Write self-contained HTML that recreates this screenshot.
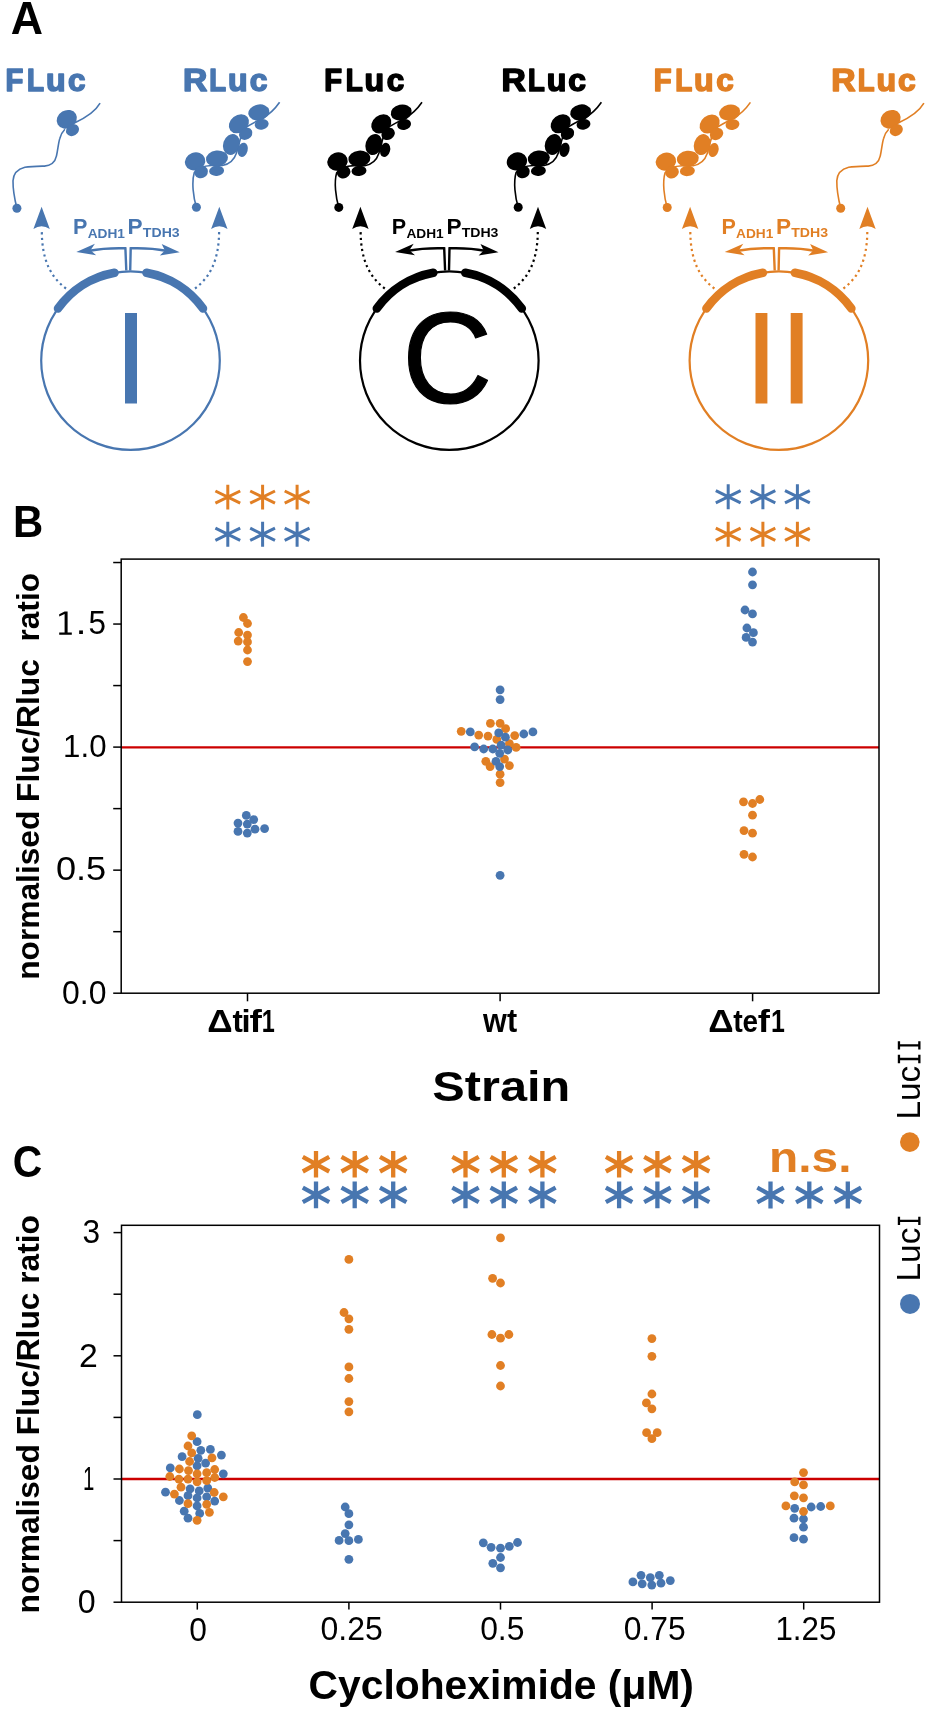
<!DOCTYPE html>
<html><head><meta charset="utf-8"><title>Figure</title>
<style>
html,body{margin:0;padding:0;background:#fff;}
body{width:935px;height:1714px;overflow:hidden;font-family:"Liberation Sans",sans-serif;}
svg{display:block;will-change:transform;}
text{font-kerning:none;font-variant-ligatures:none;white-space:pre;}
</style></head><body>
<svg width="935" height="1714" viewBox="0 0 935 1714">
<rect width="935" height="1714" fill="#fff"/>
<text transform="translate(10.69,33.6) scale(0.44716,0.45495)" font-family='"Liberation Sans", sans-serif' font-weight="bold" font-size="100" fill="#000">A</text>
<text transform="translate(5.45,90.89) scale(0.29173,0.31673)" font-family='"Liberation Sans", sans-serif' font-weight="bold" font-size="100" fill="#4876b0" stroke="#4876b0" stroke-width="5.26" stroke-linejoin="round">F</text>
<text transform="translate(26.94,90.89) scale(0.27865,0.31673)" font-family='"Liberation Sans", sans-serif' font-weight="bold" font-size="100" fill="#4876b0" stroke="#4876b0" stroke-width="5.37" stroke-linejoin="round">L</text>
<text transform="translate(45.91,90.89) scale(0.32097,0.31673)" font-family='"Liberation Sans", sans-serif' font-weight="bold" font-size="100" fill="#4876b0" stroke="#4876b0" stroke-width="5.02" stroke-linejoin="round">u</text>
<text transform="translate(67.97,90.89) scale(0.31366,0.31673)" font-family='"Liberation Sans", sans-serif' font-weight="bold" font-size="100" fill="#4876b0" stroke="#4876b0" stroke-width="5.08" stroke-linejoin="round">c</text>
<text transform="translate(182.94,90.89) scale(0.33713,0.31673)" font-family='"Liberation Sans", sans-serif' font-weight="bold" font-size="100" fill="#4876b0" stroke="#4876b0" stroke-width="4.89" stroke-linejoin="round">R</text>
<text transform="translate(209.36,90.89) scale(0.27476,0.31673)" font-family='"Liberation Sans", sans-serif' font-weight="bold" font-size="100" fill="#4876b0" stroke="#4876b0" stroke-width="5.41" stroke-linejoin="round">L</text>
<text transform="translate(228.11,90.89) scale(0.32097,0.31673)" font-family='"Liberation Sans", sans-serif' font-weight="bold" font-size="100" fill="#4876b0" stroke="#4876b0" stroke-width="5.02" stroke-linejoin="round">u</text>
<text transform="translate(249.76,90.89) scale(0.31776,0.31673)" font-family='"Liberation Sans", sans-serif' font-weight="bold" font-size="100" fill="#4876b0" stroke="#4876b0" stroke-width="5.04" stroke-linejoin="round">c</text>
<text transform="translate(324.15,90.99) scale(0.29173,0.31673)" font-family='"Liberation Sans", sans-serif' font-weight="bold" font-size="100" fill="#000000" stroke="#000000" stroke-width="5.26" stroke-linejoin="round">F</text>
<text transform="translate(345.64,90.99) scale(0.27865,0.31673)" font-family='"Liberation Sans", sans-serif' font-weight="bold" font-size="100" fill="#000000" stroke="#000000" stroke-width="5.37" stroke-linejoin="round">L</text>
<text transform="translate(364.61,90.99) scale(0.32097,0.31673)" font-family='"Liberation Sans", sans-serif' font-weight="bold" font-size="100" fill="#000000" stroke="#000000" stroke-width="5.02" stroke-linejoin="round">u</text>
<text transform="translate(386.67,90.99) scale(0.31366,0.31673)" font-family='"Liberation Sans", sans-serif' font-weight="bold" font-size="100" fill="#000000" stroke="#000000" stroke-width="5.08" stroke-linejoin="round">c</text>
<text transform="translate(501.54,90.99) scale(0.33713,0.31673)" font-family='"Liberation Sans", sans-serif' font-weight="bold" font-size="100" fill="#000000" stroke="#000000" stroke-width="4.89" stroke-linejoin="round">R</text>
<text transform="translate(527.96,90.99) scale(0.27476,0.31673)" font-family='"Liberation Sans", sans-serif' font-weight="bold" font-size="100" fill="#000000" stroke="#000000" stroke-width="5.41" stroke-linejoin="round">L</text>
<text transform="translate(546.71,90.99) scale(0.32097,0.31673)" font-family='"Liberation Sans", sans-serif' font-weight="bold" font-size="100" fill="#000000" stroke="#000000" stroke-width="5.02" stroke-linejoin="round">u</text>
<text transform="translate(568.36,90.99) scale(0.31776,0.31673)" font-family='"Liberation Sans", sans-serif' font-weight="bold" font-size="100" fill="#000000" stroke="#000000" stroke-width="5.04" stroke-linejoin="round">c</text>
<text transform="translate(653.65,90.89) scale(0.29173,0.31673)" font-family='"Liberation Sans", sans-serif' font-weight="bold" font-size="100" fill="#e17f24" stroke="#e17f24" stroke-width="5.26" stroke-linejoin="round">F</text>
<text transform="translate(675.14,90.89) scale(0.27865,0.31673)" font-family='"Liberation Sans", sans-serif' font-weight="bold" font-size="100" fill="#e17f24" stroke="#e17f24" stroke-width="5.37" stroke-linejoin="round">L</text>
<text transform="translate(694.11,90.89) scale(0.32097,0.31673)" font-family='"Liberation Sans", sans-serif' font-weight="bold" font-size="100" fill="#e17f24" stroke="#e17f24" stroke-width="5.02" stroke-linejoin="round">u</text>
<text transform="translate(716.17,90.89) scale(0.31366,0.31673)" font-family='"Liberation Sans", sans-serif' font-weight="bold" font-size="100" fill="#e17f24" stroke="#e17f24" stroke-width="5.08" stroke-linejoin="round">c</text>
<text transform="translate(831.24,90.89) scale(0.33713,0.31673)" font-family='"Liberation Sans", sans-serif' font-weight="bold" font-size="100" fill="#e17f24" stroke="#e17f24" stroke-width="4.89" stroke-linejoin="round">R</text>
<text transform="translate(857.66,90.89) scale(0.27476,0.31673)" font-family='"Liberation Sans", sans-serif' font-weight="bold" font-size="100" fill="#e17f24" stroke="#e17f24" stroke-width="5.41" stroke-linejoin="round">L</text>
<text transform="translate(876.41,90.89) scale(0.32097,0.31673)" font-family='"Liberation Sans", sans-serif' font-weight="bold" font-size="100" fill="#e17f24" stroke="#e17f24" stroke-width="5.02" stroke-linejoin="round">u</text>
<text transform="translate(898.06,90.89) scale(0.31776,0.31673)" font-family='"Liberation Sans", sans-serif' font-weight="bold" font-size="100" fill="#e17f24" stroke="#e17f24" stroke-width="5.04" stroke-linejoin="round">c</text>
<circle cx="130.5" cy="360.6" r="89.3" fill="none" stroke="#4876b0" stroke-width="2.2"/>
<path d="M57.98,308.49 A89.3,89.3 0 0 1 114.53,272.74" fill="none" stroke="#4876b0" stroke-width="8.5" stroke-linecap="round"/>
<path d="M146.47,272.74 A89.3,89.3 0 0 1 203.02,308.49" fill="none" stroke="#4876b0" stroke-width="8.5" stroke-linecap="round"/>
<path d="M126.3,270.5 L125.4,248.3 Q105.5,247.7 89.5,250.7" fill="none" stroke="#4876b0" stroke-width="2.4"/>
<path d="M130.2,270.5 L130.7,248.3 Q150.5,247.7 166,250.7" fill="none" stroke="#4876b0" stroke-width="2.4"/>
<path d="M76.3,252.1 L94.9,243.8 L90.5,250.2 L96.2,255.3 Z" fill="#4876b0"/>
<path d="M179.7,252.3 L161.7,244 L164.9,250.4 L159.8,255.5 Z" fill="#4876b0"/>
<path d="M66,288.5 C52,278 41.9,262 41.8,231" fill="none" stroke="#4876b0" stroke-width="2.2" stroke-dasharray="2.2 3.4"/>
<path d="M195,288.5 C209,278 219,262 219.1,231" fill="none" stroke="#4876b0" stroke-width="2.2" stroke-dasharray="2.2 3.4"/>
<path d="M41.6,206.8 L49.8,229.1 Q41.6,223.3 33.4,229.1 Z" fill="#4876b0"/>
<path d="M219.3,206.8 L227.5,229.1 Q219.3,223.3 211.1,229.1 Z" fill="#4876b0"/>
<g transform="translate(16.9,208.2)" fill="#4876b0">
<path d="M0,0 C-2,-8 -4,-20 -3.9,-27.5 C-3.5,-34 0,-39 8,-41 C14,-42 22,-42 27.5,-42.1 C33,-42.5 38,-45 39.5,-52 C41,-58 41.5,-66 43,-70 C44,-74 46,-77 48,-79 M58,-85.5 C68,-90 78,-96 83.2,-105" fill="none" stroke="#4876b0" stroke-width="1.6"/>
<ellipse cx="49.9" cy="-88.9" rx="10.5" ry="9" transform="rotate(-30 49.9 -88.9)"/>
<ellipse cx="55.6" cy="-78" rx="6.8" ry="5.6" transform="rotate(-30 55.6 -78)"/>
<circle cx="0" cy="0" r="4.5"/>
</g>
<g transform="translate(196.4,207.3)" fill="#4876b0">
<path d="M0,0 C-3,-10 -5,-25 -2.1,-34.7 C2,-40 8,-41.5 15,-41.8 L26,-41.8 C33,-43 38,-48 40,-54 C42,-60 44,-72 48,-79 C54,-83 60,-86 66,-89 C73,-93 79,-99 83.2,-105.1" fill="none" stroke="#4876b0" stroke-width="1.6"/>
<ellipse cx="62.4" cy="-94.9" rx="10.6" ry="7.9" transform="rotate(-12 62.4 -94.9)"/>
<ellipse cx="65.3" cy="-82.9" rx="7" ry="5.3" transform="rotate(-12 65.3 -82.9)"/>
<ellipse cx="42.5" cy="-83.5" rx="10.9" ry="8.6" transform="rotate(-38 42.5 -83.5)"/>
<ellipse cx="49.3" cy="-73.5" rx="7" ry="5.8" transform="rotate(-30 49.3 -73.5)"/>
<ellipse cx="35" cy="-62.9" rx="8.2" ry="10.7" transform="rotate(18 35 -62.9)"/>
<ellipse cx="46.3" cy="-57.5" rx="5" ry="7.2" transform="rotate(15 46.3 -57.5)"/>
<ellipse cx="20.6" cy="-48.8" rx="11" ry="8" transform="rotate(-6 20.6 -48.8)"/>
<ellipse cx="20.2" cy="-36.5" rx="7.5" ry="5.1" transform="rotate(-5 20.2 -36.5)"/>
<ellipse cx="-1.3" cy="-45.9" rx="10.3" ry="9" transform="rotate(-20 -1.3 -45.9)"/>
<ellipse cx="4.8" cy="-35.3" rx="6.9" ry="6.2" transform="rotate(-25 4.8 -35.3)"/>
<circle cx="0" cy="0" r="4.5"/>
</g>
<text transform="translate(73.06,233.5) scale(0.21558,0.21512)" font-family='"Liberation Sans", sans-serif' font-weight="bold" font-size="100" fill="#4876b0">P</text>
<text transform="translate(87.66,237.6) scale(0.13708,0.13082)" font-family='"Liberation Sans", sans-serif' font-weight="bold" font-size="100" fill="#4876b0">ADH1</text>
<text transform="translate(127.59,233.5) scale(0.22618,0.21512)" font-family='"Liberation Sans", sans-serif' font-weight="bold" font-size="100" fill="#4876b0">P</text>
<text transform="translate(142.84,237.46) scale(0.14119,0.12685)" font-family='"Liberation Sans", sans-serif' font-weight="bold" font-size="100" fill="#4876b0">TDH3</text>
<rect x="125" y="313" width="12" height="90.5" fill="#4876b0"/>
<circle cx="449.3" cy="360.6" r="89.3" fill="none" stroke="#000000" stroke-width="2.2"/>
<path d="M376.78,308.49 A89.3,89.3 0 0 1 433.33,272.74" fill="none" stroke="#000000" stroke-width="8.5" stroke-linecap="round"/>
<path d="M465.27,272.74 A89.3,89.3 0 0 1 521.82,308.49" fill="none" stroke="#000000" stroke-width="8.5" stroke-linecap="round"/>
<path d="M445.1,270.5 L444.2,248.3 Q424.3,247.7 408.3,250.7" fill="none" stroke="#000000" stroke-width="2.4"/>
<path d="M449,270.5 L449.5,248.3 Q469.3,247.7 484.8,250.7" fill="none" stroke="#000000" stroke-width="2.4"/>
<path d="M395.1,252.1 L413.7,243.8 L409.3,250.2 L415,255.3 Z" fill="#000000"/>
<path d="M498.5,252.3 L480.5,244 L483.7,250.4 L478.6,255.5 Z" fill="#000000"/>
<path d="M384.8,288.5 C370.8,278 360.7,262 360.6,231" fill="none" stroke="#000000" stroke-width="2.2" stroke-dasharray="2.2 3.4"/>
<path d="M513.8,288.5 C527.8,278 537.7,262 537.8,231" fill="none" stroke="#000000" stroke-width="2.2" stroke-dasharray="2.2 3.4"/>
<path d="M360.4,206.8 L368.6,229.1 Q360.4,223.3 352.2,229.1 Z" fill="#000000"/>
<path d="M538,206.8 L546.2,229.1 Q538,223.3 529.8,229.1 Z" fill="#000000"/>
<g transform="translate(338.8,207.4)" fill="#000000">
<path d="M0,0 C-3,-10 -5,-25 -2.1,-34.7 C2,-40 8,-41.5 15,-41.8 L26,-41.8 C33,-43 38,-48 40,-54 C42,-60 44,-72 48,-79 C54,-83 60,-86 66,-89 C73,-93 79,-99 83.2,-105.1" fill="none" stroke="#000000" stroke-width="1.6"/>
<ellipse cx="62.4" cy="-94.9" rx="10.6" ry="7.9" transform="rotate(-12 62.4 -94.9)"/>
<ellipse cx="65.3" cy="-82.9" rx="7" ry="5.3" transform="rotate(-12 65.3 -82.9)"/>
<ellipse cx="42.5" cy="-83.5" rx="10.9" ry="8.6" transform="rotate(-38 42.5 -83.5)"/>
<ellipse cx="49.3" cy="-73.5" rx="7" ry="5.8" transform="rotate(-30 49.3 -73.5)"/>
<ellipse cx="35" cy="-62.9" rx="8.2" ry="10.7" transform="rotate(18 35 -62.9)"/>
<ellipse cx="46.3" cy="-57.5" rx="5" ry="7.2" transform="rotate(15 46.3 -57.5)"/>
<ellipse cx="20.6" cy="-48.8" rx="11" ry="8" transform="rotate(-6 20.6 -48.8)"/>
<ellipse cx="20.2" cy="-36.5" rx="7.5" ry="5.1" transform="rotate(-5 20.2 -36.5)"/>
<ellipse cx="-1.3" cy="-45.9" rx="10.3" ry="9" transform="rotate(-20 -1.3 -45.9)"/>
<ellipse cx="4.8" cy="-35.3" rx="6.9" ry="6.2" transform="rotate(-25 4.8 -35.3)"/>
<circle cx="0" cy="0" r="4.5"/>
</g>
<g transform="translate(518.2,207.3)" fill="#000000">
<path d="M0,0 C-3,-10 -5,-25 -2.1,-34.7 C2,-40 8,-41.5 15,-41.8 L26,-41.8 C33,-43 38,-48 40,-54 C42,-60 44,-72 48,-79 C54,-83 60,-86 66,-89 C73,-93 79,-99 83.2,-105.1" fill="none" stroke="#000000" stroke-width="1.6"/>
<ellipse cx="62.4" cy="-94.9" rx="10.6" ry="7.9" transform="rotate(-12 62.4 -94.9)"/>
<ellipse cx="65.3" cy="-82.9" rx="7" ry="5.3" transform="rotate(-12 65.3 -82.9)"/>
<ellipse cx="42.5" cy="-83.5" rx="10.9" ry="8.6" transform="rotate(-38 42.5 -83.5)"/>
<ellipse cx="49.3" cy="-73.5" rx="7" ry="5.8" transform="rotate(-30 49.3 -73.5)"/>
<ellipse cx="35" cy="-62.9" rx="8.2" ry="10.7" transform="rotate(18 35 -62.9)"/>
<ellipse cx="46.3" cy="-57.5" rx="5" ry="7.2" transform="rotate(15 46.3 -57.5)"/>
<ellipse cx="20.6" cy="-48.8" rx="11" ry="8" transform="rotate(-6 20.6 -48.8)"/>
<ellipse cx="20.2" cy="-36.5" rx="7.5" ry="5.1" transform="rotate(-5 20.2 -36.5)"/>
<ellipse cx="-1.3" cy="-45.9" rx="10.3" ry="9" transform="rotate(-20 -1.3 -45.9)"/>
<ellipse cx="4.8" cy="-35.3" rx="6.9" ry="6.2" transform="rotate(-25 4.8 -35.3)"/>
<circle cx="0" cy="0" r="4.5"/>
</g>
<text transform="translate(391.86,233.5) scale(0.21558,0.21512)" font-family='"Liberation Sans", sans-serif' font-weight="bold" font-size="100" fill="#000000">P</text>
<text transform="translate(406.46,237.6) scale(0.13708,0.13082)" font-family='"Liberation Sans", sans-serif' font-weight="bold" font-size="100" fill="#000000">ADH1</text>
<text transform="translate(446.39,233.5) scale(0.22618,0.21512)" font-family='"Liberation Sans", sans-serif' font-weight="bold" font-size="100" fill="#000000">P</text>
<text transform="translate(461.64,237.46) scale(0.14119,0.12685)" font-family='"Liberation Sans", sans-serif' font-weight="bold" font-size="100" fill="#000000">TDH3</text>
<text transform="translate(402.27,403.23) scale(1.24585,1.29942)" font-family='"Liberation Sans", sans-serif' font-weight="normal" font-size="100" fill="#000000" stroke="#000000" stroke-width="0.94" stroke-linejoin="round">C</text>
<circle cx="778.9" cy="360.6" r="89.3" fill="none" stroke="#e17f24" stroke-width="2.2"/>
<path d="M706.38,308.49 A89.3,89.3 0 0 1 762.93,272.74" fill="none" stroke="#e17f24" stroke-width="8.5" stroke-linecap="round"/>
<path d="M794.87,272.74 A89.3,89.3 0 0 1 851.42,308.49" fill="none" stroke="#e17f24" stroke-width="8.5" stroke-linecap="round"/>
<path d="M774.7,270.5 L773.8,248.3 Q753.9,247.7 737.9,250.7" fill="none" stroke="#e17f24" stroke-width="2.4"/>
<path d="M778.6,270.5 L779.1,248.3 Q798.9,247.7 814.4,250.7" fill="none" stroke="#e17f24" stroke-width="2.4"/>
<path d="M724.7,252.1 L743.3,243.8 L738.9,250.2 L744.6,255.3 Z" fill="#e17f24"/>
<path d="M828.1,252.3 L810.1,244 L813.3,250.4 L808.2,255.5 Z" fill="#e17f24"/>
<path d="M714.4,288.5 C700.4,278 690.4,262 690.3,231" fill="none" stroke="#e17f24" stroke-width="2.2" stroke-dasharray="2.2 3.4"/>
<path d="M843.4,288.5 C857.4,278 867.2,262 867.3,231" fill="none" stroke="#e17f24" stroke-width="2.2" stroke-dasharray="2.2 3.4"/>
<path d="M690.1,206.8 L698.3,229.1 Q690.1,223.3 681.9,229.1 Z" fill="#e17f24"/>
<path d="M867.5,206.8 L875.7,229.1 Q867.5,223.3 859.3,229.1 Z" fill="#e17f24"/>
<g transform="translate(667.2,207.5)" fill="#e17f24">
<path d="M0,0 C-3,-10 -5,-25 -2.1,-34.7 C2,-40 8,-41.5 15,-41.8 L26,-41.8 C33,-43 38,-48 40,-54 C42,-60 44,-72 48,-79 C54,-83 60,-86 66,-89 C73,-93 79,-99 83.2,-105.1" fill="none" stroke="#e17f24" stroke-width="1.6"/>
<ellipse cx="62.4" cy="-94.9" rx="10.6" ry="7.9" transform="rotate(-12 62.4 -94.9)"/>
<ellipse cx="65.3" cy="-82.9" rx="7" ry="5.3" transform="rotate(-12 65.3 -82.9)"/>
<ellipse cx="42.5" cy="-83.5" rx="10.9" ry="8.6" transform="rotate(-38 42.5 -83.5)"/>
<ellipse cx="49.3" cy="-73.5" rx="7" ry="5.8" transform="rotate(-30 49.3 -73.5)"/>
<ellipse cx="35" cy="-62.9" rx="8.2" ry="10.7" transform="rotate(18 35 -62.9)"/>
<ellipse cx="46.3" cy="-57.5" rx="5" ry="7.2" transform="rotate(15 46.3 -57.5)"/>
<ellipse cx="20.6" cy="-48.8" rx="11" ry="8" transform="rotate(-6 20.6 -48.8)"/>
<ellipse cx="20.2" cy="-36.5" rx="7.5" ry="5.1" transform="rotate(-5 20.2 -36.5)"/>
<ellipse cx="-1.3" cy="-45.9" rx="10.3" ry="9" transform="rotate(-20 -1.3 -45.9)"/>
<ellipse cx="4.8" cy="-35.3" rx="6.9" ry="6.2" transform="rotate(-25 4.8 -35.3)"/>
<circle cx="0" cy="0" r="4.5"/>
</g>
<g transform="translate(840.7,208.2)" fill="#e17f24">
<path d="M0,0 C-2,-8 -4,-20 -3.9,-27.5 C-3.5,-34 0,-39 8,-41 C14,-42 22,-42 27.5,-42.1 C33,-42.5 38,-45 39.5,-52 C41,-58 41.5,-66 43,-70 C44,-74 46,-77 48,-79 M58,-85.5 C68,-90 78,-96 83.2,-105" fill="none" stroke="#e17f24" stroke-width="1.6"/>
<ellipse cx="49.9" cy="-88.9" rx="10.5" ry="9" transform="rotate(-30 49.9 -88.9)"/>
<ellipse cx="55.6" cy="-78" rx="6.8" ry="5.6" transform="rotate(-30 55.6 -78)"/>
<circle cx="0" cy="0" r="4.5"/>
</g>
<text transform="translate(721.46,233.5) scale(0.21558,0.21512)" font-family='"Liberation Sans", sans-serif' font-weight="bold" font-size="100" fill="#e17f24">P</text>
<text transform="translate(736.06,237.6) scale(0.13708,0.13082)" font-family='"Liberation Sans", sans-serif' font-weight="bold" font-size="100" fill="#e17f24">ADH1</text>
<text transform="translate(775.99,233.5) scale(0.22618,0.21512)" font-family='"Liberation Sans", sans-serif' font-weight="bold" font-size="100" fill="#e17f24">P</text>
<text transform="translate(791.24,237.46) scale(0.14119,0.12685)" font-family='"Liberation Sans", sans-serif' font-weight="bold" font-size="100" fill="#e17f24">TDH3</text>
<rect x="755.5" y="313" width="11.9" height="90.5" fill="#e17f24"/>
<rect x="790.7" y="313" width="11.9" height="90.5" fill="#e17f24"/>
<text transform="translate(13.1,536.9) scale(0.41813,0.44332)" font-family='"Liberation Sans", sans-serif' font-weight="bold" font-size="100" fill="#000">B</text>
<line x1="121.2" y1="747.4" x2="879" y2="747.4" stroke="#cc0000" stroke-width="2.4"/>
<circle cx="243.4" cy="617.5" r="4.4" fill="#e17f24"/>
<circle cx="247.5" cy="623.5" r="4.4" fill="#e17f24"/>
<circle cx="238.7" cy="632.5" r="4.4" fill="#e17f24"/>
<circle cx="247.5" cy="635.1" r="4.4" fill="#e17f24"/>
<circle cx="238.2" cy="641.1" r="4.4" fill="#e17f24"/>
<circle cx="247.5" cy="641.9" r="4.4" fill="#e17f24"/>
<circle cx="247.5" cy="650" r="4.4" fill="#e17f24"/>
<circle cx="247.5" cy="661.6" r="4.4" fill="#e17f24"/>
<circle cx="743.5" cy="801.8" r="4.4" fill="#e17f24"/>
<circle cx="752.5" cy="803.5" r="4.4" fill="#e17f24"/>
<circle cx="759.8" cy="799.5" r="4.4" fill="#e17f24"/>
<circle cx="752.5" cy="815.2" r="4.4" fill="#e17f24"/>
<circle cx="744" cy="830.6" r="4.4" fill="#e17f24"/>
<circle cx="752.5" cy="833.2" r="4.4" fill="#e17f24"/>
<circle cx="744" cy="854.3" r="4.4" fill="#e17f24"/>
<circle cx="752.5" cy="857" r="4.4" fill="#e17f24"/>
<circle cx="246.3" cy="815.4" r="4.4" fill="#4876b0"/>
<circle cx="253.7" cy="819.6" r="4.4" fill="#4876b0"/>
<circle cx="238" cy="823.1" r="4.4" fill="#4876b0"/>
<circle cx="247.3" cy="824.1" r="4.4" fill="#4876b0"/>
<circle cx="238" cy="831.4" r="4.4" fill="#4876b0"/>
<circle cx="255" cy="829.2" r="4.4" fill="#4876b0"/>
<circle cx="247.3" cy="833.1" r="4.4" fill="#4876b0"/>
<circle cx="264.6" cy="828.6" r="4.4" fill="#4876b0"/>
<circle cx="752.5" cy="572" r="4.4" fill="#4876b0"/>
<circle cx="752.5" cy="584.8" r="4.4" fill="#4876b0"/>
<circle cx="745" cy="610" r="4.4" fill="#4876b0"/>
<circle cx="752.5" cy="613.9" r="4.4" fill="#4876b0"/>
<circle cx="746.9" cy="628" r="4.4" fill="#4876b0"/>
<circle cx="753.4" cy="632.7" r="4.4" fill="#4876b0"/>
<circle cx="746.1" cy="637.4" r="4.4" fill="#4876b0"/>
<circle cx="752.5" cy="642.1" r="4.4" fill="#4876b0"/>
<circle cx="461.2" cy="731.3" r="4.4" fill="#e17f24"/>
<circle cx="490.4" cy="723.3" r="4.4" fill="#e17f24"/>
<circle cx="500.1" cy="723.3" r="4.4" fill="#e17f24"/>
<circle cx="505.6" cy="728.7" r="4.4" fill="#e17f24"/>
<circle cx="478.7" cy="735.1" r="4.4" fill="#e17f24"/>
<circle cx="488" cy="736.1" r="4.4" fill="#e17f24"/>
<circle cx="514.7" cy="735.6" r="4.4" fill="#e17f24"/>
<circle cx="496.8" cy="739.4" r="4.4" fill="#e17f24"/>
<circle cx="509.4" cy="743.6" r="4.4" fill="#e17f24"/>
<circle cx="516.1" cy="747.4" r="4.4" fill="#e17f24"/>
<circle cx="485.8" cy="761.3" r="4.4" fill="#e17f24"/>
<circle cx="490.1" cy="766.6" r="4.4" fill="#e17f24"/>
<circle cx="504.5" cy="759.1" r="4.4" fill="#e17f24"/>
<circle cx="509.4" cy="765.6" r="4.4" fill="#e17f24"/>
<circle cx="500.1" cy="774.2" r="4.4" fill="#e17f24"/>
<circle cx="500.1" cy="782.6" r="4.4" fill="#e17f24"/>
<circle cx="500.1" cy="689.8" r="4.4" fill="#4876b0"/>
<circle cx="500.1" cy="699.6" r="4.4" fill="#4876b0"/>
<circle cx="470.3" cy="731.9" r="4.4" fill="#4876b0"/>
<circle cx="523.8" cy="734" r="4.4" fill="#4876b0"/>
<circle cx="532.9" cy="731.9" r="4.4" fill="#4876b0"/>
<circle cx="498.7" cy="732.9" r="4.4" fill="#4876b0"/>
<circle cx="505.4" cy="737.2" r="4.4" fill="#4876b0"/>
<circle cx="474.6" cy="746.8" r="4.4" fill="#4876b0"/>
<circle cx="483.7" cy="749" r="4.4" fill="#4876b0"/>
<circle cx="492.8" cy="749" r="4.4" fill="#4876b0"/>
<circle cx="501.1" cy="745.2" r="4.4" fill="#4876b0"/>
<circle cx="507.8" cy="750" r="4.4" fill="#4876b0"/>
<circle cx="499.7" cy="753.3" r="4.4" fill="#4876b0"/>
<circle cx="496" cy="761.3" r="4.4" fill="#4876b0"/>
<circle cx="499.7" cy="766.6" r="4.4" fill="#4876b0"/>
<circle cx="500.1" cy="875.3" r="4.4" fill="#4876b0"/>
<rect x="121.2" y="559.1" width="757.8" height="434.1" fill="none" stroke="#000" stroke-width="1.5"/>
<line x1="113.2" y1="993.2" x2="121.2" y2="993.2" stroke="#000" stroke-width="1.5"/>
<line x1="113.2" y1="931.68" x2="121.2" y2="931.68" stroke="#000" stroke-width="1.5"/>
<line x1="113.2" y1="870.15" x2="121.2" y2="870.15" stroke="#000" stroke-width="1.5"/>
<line x1="113.2" y1="808.62" x2="121.2" y2="808.62" stroke="#000" stroke-width="1.5"/>
<line x1="113.2" y1="747.1" x2="121.2" y2="747.1" stroke="#000" stroke-width="1.5"/>
<line x1="113.2" y1="685.58" x2="121.2" y2="685.58" stroke="#000" stroke-width="1.5"/>
<line x1="113.2" y1="624.05" x2="121.2" y2="624.05" stroke="#000" stroke-width="1.5"/>
<line x1="113.2" y1="562.53" x2="121.2" y2="562.53" stroke="#000" stroke-width="1.5"/>
<line x1="247.5" y1="993.2" x2="247.5" y2="1001.3" stroke="#000" stroke-width="1.5"/>
<line x1="500.1" y1="993.2" x2="500.1" y2="1001.3" stroke="#000" stroke-width="1.5"/>
<line x1="752.6" y1="993.2" x2="752.6" y2="1001.3" stroke="#000" stroke-width="1.5"/>
<text transform="translate(62.05,1004.18) scale(0.31936,0.33192)" font-family='"Liberation Sans", sans-serif' font-weight="normal" font-size="100" fill="#000">0.0</text>
<text transform="translate(55.89,880.48) scale(0.36209,0.32909)" font-family='"Liberation Sans", sans-serif' font-weight="normal" font-size="100" fill="#000">0.5</text>
<text transform="translate(63.12,757.4) scale(0.31218,0.30791)" font-family='"Liberation Sans", sans-serif' font-weight="normal" font-size="100" fill="#000">1.0</text>
<path d="M64.6,611.4 H67.6 V632.4 H71.8 V634.8 H59.2 V632.4 H64.6 V614.1 L59.2,616.6 V614.2 Z" fill="#000"/>
<text transform="translate(75.46,634.47) scale(0.39910,0.33536)" font-family='"Liberation Sans", sans-serif' font-weight="normal" font-size="100" fill="#000">.</text>
<text transform="translate(88.54,634.47) scale(0.31427,0.33536)" font-family='"Liberation Sans", sans-serif' font-weight="normal" font-size="100" fill="#000">5</text>
<text transform="translate(207.17,1032.12) scale(0.35310,0.31497)" font-family='"Liberation Sans", sans-serif' font-weight="bold" font-size="100" fill="#000">Δ</text>
<text transform="translate(232.62,1032.12) scale(0.31109,0.31497)" font-family='"Liberation Sans", sans-serif' font-weight="bold" font-size="100" fill="#000">t</text>
<text transform="translate(241.61,1032.12) scale(0.32797,0.31497)" font-family='"Liberation Sans", sans-serif' font-weight="bold" font-size="100" fill="#000">i</text>
<text transform="translate(249.47,1032.12) scale(0.37122,0.31497)" font-family='"Liberation Sans", sans-serif' font-weight="bold" font-size="100" fill="#000">f</text>
<text transform="translate(261.72,1032.12) scale(0.23424,0.31497)" font-family='"Liberation Sans", sans-serif' font-weight="bold" font-size="100" fill="#000">1</text>
<text transform="translate(483.09,1032.22) scale(0.30593,0.32369)" font-family='"Liberation Sans", sans-serif' font-weight="bold" font-size="100" fill="#000">wt</text>
<text transform="translate(708.17,1032.09) scale(0.35310,0.31455)" font-family='"Liberation Sans", sans-serif' font-weight="bold" font-size="100" fill="#000">Δ</text>
<text transform="translate(733.25,1032.09) scale(0.28516,0.31455)" font-family='"Liberation Sans", sans-serif' font-weight="bold" font-size="100" fill="#000">t</text>
<text transform="translate(742.51,1032.09) scale(0.27956,0.31455)" font-family='"Liberation Sans", sans-serif' font-weight="bold" font-size="100" fill="#000">e</text>
<text transform="translate(757.78,1032.09) scale(0.36493,0.31455)" font-family='"Liberation Sans", sans-serif' font-weight="bold" font-size="100" fill="#000">f</text>
<text transform="translate(770.93,1032.09) scale(0.24928,0.31455)" font-family='"Liberation Sans", sans-serif' font-weight="bold" font-size="100" fill="#000">1</text>
<text transform="translate(432.3,1101.38) scale(0.48666,0.43030)" font-family='"Liberation Sans", sans-serif' font-weight="bold" font-size="100" fill="#000">Strain</text>
<text transform="translate(38.58,979.79) rotate(-90) scale(0.31702,0.31022)" font-family='"Liberation Sans", sans-serif' font-weight="bold" font-size="100" fill="#000">normalised Fluc/Rluc  ratio</text>
<path d="M227.8,484.65 V509.55 M215.4,491 L240.2,503.2 M215.4,503.2 L240.2,491" stroke="#e17f24" stroke-width="3" fill="none"/>
<path d="M227.8,521.85 V546.75 M215.4,528.2 L240.2,540.4 M215.4,540.4 L240.2,528.2" stroke="#4876b0" stroke-width="3" fill="none"/>
<path d="M262.6,484.65 V509.55 M250.2,491 L275,503.2 M250.2,503.2 L275,491" stroke="#e17f24" stroke-width="3" fill="none"/>
<path d="M262.6,521.85 V546.75 M250.2,528.2 L275,540.4 M250.2,540.4 L275,528.2" stroke="#4876b0" stroke-width="3" fill="none"/>
<path d="M297.1,484.65 V509.55 M284.7,491 L309.5,503.2 M284.7,503.2 L309.5,491" stroke="#e17f24" stroke-width="3" fill="none"/>
<path d="M297.1,521.85 V546.75 M284.7,528.2 L309.5,540.4 M284.7,540.4 L309.5,528.2" stroke="#4876b0" stroke-width="3" fill="none"/>
<path d="M728.2,484.35 V509.25 M715.8,490.7 L740.6,502.9 M715.8,502.9 L740.6,490.7" stroke="#4876b0" stroke-width="3" fill="none"/>
<path d="M728.2,521.85 V546.75 M715.8,528.2 L740.6,540.4 M715.8,540.4 L740.6,528.2" stroke="#e17f24" stroke-width="3" fill="none"/>
<path d="M762.9,484.35 V509.25 M750.5,490.7 L775.3,502.9 M750.5,502.9 L775.3,490.7" stroke="#4876b0" stroke-width="3" fill="none"/>
<path d="M762.9,521.85 V546.75 M750.5,528.2 L775.3,540.4 M750.5,540.4 L775.3,528.2" stroke="#e17f24" stroke-width="3" fill="none"/>
<path d="M797.4,484.35 V509.25 M785,490.7 L809.8,502.9 M785,502.9 L809.8,490.7" stroke="#4876b0" stroke-width="3" fill="none"/>
<path d="M797.4,521.85 V546.75 M785,528.2 L809.8,540.4 M785,540.4 L809.8,528.2" stroke="#e17f24" stroke-width="3" fill="none"/>
<text transform="translate(12.73,1177.36) scale(0.40838,0.44915)" font-family='"Liberation Sans", sans-serif' font-weight="bold" font-size="100" fill="#000">C</text>
<line x1="121.5" y1="1479" x2="879.5" y2="1479" stroke="#cc0000" stroke-width="2.4"/>
<circle cx="197.3" cy="1414.7" r="4.4" fill="#4876b0"/>
<circle cx="197.1" cy="1441.7" r="4.4" fill="#4876b0"/>
<circle cx="200.8" cy="1450.3" r="4.4" fill="#4876b0"/>
<circle cx="210.4" cy="1449.4" r="4.4" fill="#4876b0"/>
<circle cx="221.4" cy="1455.1" r="4.4" fill="#4876b0"/>
<circle cx="182.1" cy="1456.7" r="4.4" fill="#4876b0"/>
<circle cx="198.1" cy="1458.3" r="4.4" fill="#4876b0"/>
<circle cx="205.6" cy="1463.1" r="4.4" fill="#4876b0"/>
<circle cx="197.1" cy="1465.8" r="4.4" fill="#4876b0"/>
<circle cx="170.3" cy="1467.9" r="4.4" fill="#4876b0"/>
<circle cx="223.3" cy="1473.8" r="4.4" fill="#4876b0"/>
<circle cx="165.5" cy="1492.2" r="4.4" fill="#4876b0"/>
<circle cx="190.1" cy="1488.8" r="4.4" fill="#4876b0"/>
<circle cx="199.2" cy="1490.9" r="4.4" fill="#4876b0"/>
<circle cx="207.8" cy="1488.2" r="4.4" fill="#4876b0"/>
<circle cx="188" cy="1495.7" r="4.4" fill="#4876b0"/>
<circle cx="197.1" cy="1497.9" r="4.4" fill="#4876b0"/>
<circle cx="206.7" cy="1496.8" r="4.4" fill="#4876b0"/>
<circle cx="179.4" cy="1500.5" r="4.4" fill="#4876b0"/>
<circle cx="214.7" cy="1501.1" r="4.4" fill="#4876b0"/>
<circle cx="197.1" cy="1505.9" r="4.4" fill="#4876b0"/>
<circle cx="184.2" cy="1511.2" r="4.4" fill="#4876b0"/>
<circle cx="199.7" cy="1513.4" r="4.4" fill="#4876b0"/>
<circle cx="188" cy="1518.2" r="4.4" fill="#4876b0"/>
<circle cx="345.2" cy="1507" r="4.4" fill="#4876b0"/>
<circle cx="348.9" cy="1513.7" r="4.4" fill="#4876b0"/>
<circle cx="348.9" cy="1524.8" r="4.4" fill="#4876b0"/>
<circle cx="345.2" cy="1533.6" r="4.4" fill="#4876b0"/>
<circle cx="339.1" cy="1540.4" r="4.4" fill="#4876b0"/>
<circle cx="348.9" cy="1540.7" r="4.4" fill="#4876b0"/>
<circle cx="358.4" cy="1539.4" r="4.4" fill="#4876b0"/>
<circle cx="348.9" cy="1559.3" r="4.4" fill="#4876b0"/>
<circle cx="483.3" cy="1542.8" r="4.4" fill="#4876b0"/>
<circle cx="491.1" cy="1547.3" r="4.4" fill="#4876b0"/>
<circle cx="500.5" cy="1548.2" r="4.4" fill="#4876b0"/>
<circle cx="509.3" cy="1546.3" r="4.4" fill="#4876b0"/>
<circle cx="517.5" cy="1542.5" r="4.4" fill="#4876b0"/>
<circle cx="500.5" cy="1557.5" r="4.4" fill="#4876b0"/>
<circle cx="492.8" cy="1563.3" r="4.4" fill="#4876b0"/>
<circle cx="500.5" cy="1567.8" r="4.4" fill="#4876b0"/>
<circle cx="632.9" cy="1581.9" r="4.4" fill="#4876b0"/>
<circle cx="641" cy="1575.3" r="4.4" fill="#4876b0"/>
<circle cx="642.2" cy="1583.8" r="4.4" fill="#4876b0"/>
<circle cx="650.3" cy="1577.6" r="4.4" fill="#4876b0"/>
<circle cx="651.8" cy="1585.1" r="4.4" fill="#4876b0"/>
<circle cx="659.3" cy="1575.3" r="4.4" fill="#4876b0"/>
<circle cx="661" cy="1583.2" r="4.4" fill="#4876b0"/>
<circle cx="670.3" cy="1580.6" r="4.4" fill="#4876b0"/>
<circle cx="794.7" cy="1508.3" r="4.4" fill="#4876b0"/>
<circle cx="811.2" cy="1507" r="4.4" fill="#4876b0"/>
<circle cx="820.7" cy="1506.5" r="4.4" fill="#4876b0"/>
<circle cx="794" cy="1518.2" r="4.4" fill="#4876b0"/>
<circle cx="803.5" cy="1519" r="4.4" fill="#4876b0"/>
<circle cx="803.5" cy="1527.2" r="4.4" fill="#4876b0"/>
<circle cx="794" cy="1537.7" r="4.4" fill="#4876b0"/>
<circle cx="803.5" cy="1539.2" r="4.4" fill="#4876b0"/>
<circle cx="191.7" cy="1435.8" r="4.4" fill="#e17f24"/>
<circle cx="188" cy="1446" r="4.4" fill="#e17f24"/>
<circle cx="191.7" cy="1452.9" r="4.4" fill="#e17f24"/>
<circle cx="212" cy="1457.8" r="4.4" fill="#e17f24"/>
<circle cx="189.6" cy="1461.5" r="4.4" fill="#e17f24"/>
<circle cx="179.4" cy="1469" r="4.4" fill="#e17f24"/>
<circle cx="188.5" cy="1470.6" r="4.4" fill="#e17f24"/>
<circle cx="214.7" cy="1469.5" r="4.4" fill="#e17f24"/>
<circle cx="197.1" cy="1473.8" r="4.4" fill="#e17f24"/>
<circle cx="206.7" cy="1472.7" r="4.4" fill="#e17f24"/>
<circle cx="169.8" cy="1476.5" r="4.4" fill="#e17f24"/>
<circle cx="178.9" cy="1479.1" r="4.4" fill="#e17f24"/>
<circle cx="188" cy="1479.1" r="4.4" fill="#e17f24"/>
<circle cx="197.1" cy="1481.8" r="4.4" fill="#e17f24"/>
<circle cx="206.7" cy="1480.7" r="4.4" fill="#e17f24"/>
<circle cx="214.7" cy="1477.5" r="4.4" fill="#e17f24"/>
<circle cx="181" cy="1487.2" r="4.4" fill="#e17f24"/>
<circle cx="174.4" cy="1494.1" r="4.4" fill="#e17f24"/>
<circle cx="214.2" cy="1492.5" r="4.4" fill="#e17f24"/>
<circle cx="223.3" cy="1496.8" r="4.4" fill="#e17f24"/>
<circle cx="188" cy="1503.7" r="4.4" fill="#e17f24"/>
<circle cx="206.7" cy="1504.3" r="4.4" fill="#e17f24"/>
<circle cx="209.4" cy="1512.3" r="4.4" fill="#e17f24"/>
<circle cx="197.1" cy="1520.3" r="4.4" fill="#e17f24"/>
<circle cx="348.9" cy="1259.4" r="4.4" fill="#e17f24"/>
<circle cx="344" cy="1312.5" r="4.4" fill="#e17f24"/>
<circle cx="348.9" cy="1318.8" r="4.4" fill="#e17f24"/>
<circle cx="348.9" cy="1329.3" r="4.4" fill="#e17f24"/>
<circle cx="348.9" cy="1366.9" r="4.4" fill="#e17f24"/>
<circle cx="348.9" cy="1378.5" r="4.4" fill="#e17f24"/>
<circle cx="348.9" cy="1401.6" r="4.4" fill="#e17f24"/>
<circle cx="348.9" cy="1411.8" r="4.4" fill="#e17f24"/>
<circle cx="500.5" cy="1237.9" r="4.4" fill="#e17f24"/>
<circle cx="492.6" cy="1278.3" r="4.4" fill="#e17f24"/>
<circle cx="500.5" cy="1283" r="4.4" fill="#e17f24"/>
<circle cx="491.9" cy="1334.5" r="4.4" fill="#e17f24"/>
<circle cx="500.5" cy="1338.2" r="4.4" fill="#e17f24"/>
<circle cx="508.9" cy="1334.5" r="4.4" fill="#e17f24"/>
<circle cx="500.5" cy="1365.5" r="4.4" fill="#e17f24"/>
<circle cx="500.5" cy="1386" r="4.4" fill="#e17f24"/>
<circle cx="651.9" cy="1338.6" r="4.4" fill="#e17f24"/>
<circle cx="651.9" cy="1356.3" r="4.4" fill="#e17f24"/>
<circle cx="651.9" cy="1394" r="4.4" fill="#e17f24"/>
<circle cx="646.4" cy="1402.9" r="4.4" fill="#e17f24"/>
<circle cx="651.9" cy="1408.8" r="4.4" fill="#e17f24"/>
<circle cx="646.6" cy="1432.7" r="4.4" fill="#e17f24"/>
<circle cx="657.2" cy="1432.7" r="4.4" fill="#e17f24"/>
<circle cx="651.9" cy="1438.7" r="4.4" fill="#e17f24"/>
<circle cx="803.5" cy="1472.6" r="4.4" fill="#e17f24"/>
<circle cx="794.7" cy="1481.9" r="4.4" fill="#e17f24"/>
<circle cx="803.5" cy="1484.9" r="4.4" fill="#e17f24"/>
<circle cx="794.3" cy="1495.8" r="4.4" fill="#e17f24"/>
<circle cx="803.5" cy="1497.8" r="4.4" fill="#e17f24"/>
<circle cx="785.9" cy="1505.9" r="4.4" fill="#e17f24"/>
<circle cx="830.3" cy="1505.9" r="4.4" fill="#e17f24"/>
<circle cx="803.5" cy="1511.5" r="4.4" fill="#e17f24"/>
<rect x="121.5" y="1225.3" width="758" height="376.9" fill="none" stroke="#000" stroke-width="1.5"/>
<line x1="113.5" y1="1602.2" x2="121.5" y2="1602.2" stroke="#000" stroke-width="1.5"/>
<line x1="113.5" y1="1540.6" x2="121.5" y2="1540.6" stroke="#000" stroke-width="1.5"/>
<line x1="113.5" y1="1479" x2="121.5" y2="1479" stroke="#000" stroke-width="1.5"/>
<line x1="113.5" y1="1417.4" x2="121.5" y2="1417.4" stroke="#000" stroke-width="1.5"/>
<line x1="113.5" y1="1355.8" x2="121.5" y2="1355.8" stroke="#000" stroke-width="1.5"/>
<line x1="113.5" y1="1294.2" x2="121.5" y2="1294.2" stroke="#000" stroke-width="1.5"/>
<line x1="113.5" y1="1232.6" x2="121.5" y2="1232.6" stroke="#000" stroke-width="1.5"/>
<line x1="197.3" y1="1602.2" x2="197.3" y2="1609.6" stroke="#000" stroke-width="1.5"/>
<line x1="348.9" y1="1602.2" x2="348.9" y2="1609.6" stroke="#000" stroke-width="1.5"/>
<line x1="500.5" y1="1602.2" x2="500.5" y2="1609.6" stroke="#000" stroke-width="1.5"/>
<line x1="652.1" y1="1602.2" x2="652.1" y2="1609.6" stroke="#000" stroke-width="1.5"/>
<line x1="803.7" y1="1602.2" x2="803.7" y2="1609.6" stroke="#000" stroke-width="1.5"/>
<text transform="translate(82.4,1243.38) scale(0.31637,0.33050)" font-family='"Liberation Sans", sans-serif' font-weight="normal" font-size="100" fill="#000">3</text>
<text transform="translate(78.9,1366.5) scale(0.33804,0.33226)" font-family='"Liberation Sans", sans-serif' font-weight="normal" font-size="100" fill="#000">2</text>
<text transform="translate(83.05,1489.8) scale(0.20410,0.34012)" font-family='"Liberation Sans", sans-serif' font-weight="normal" font-size="100" fill="#000">1</text>
<text transform="translate(77.64,1612.58) scale(0.32216,0.32627)" font-family='"Liberation Sans", sans-serif' font-weight="normal" font-size="100" fill="#000">0</text>
<text transform="translate(189.16,1640.57) scale(0.31797,0.33474)" font-family='"Liberation Sans", sans-serif' font-weight="normal" font-size="100" fill="#000">0</text>
<text transform="translate(320.45,1640.28) scale(0.32007,0.32627)" font-family='"Liberation Sans", sans-serif' font-weight="normal" font-size="100" fill="#000">0.25</text>
<text transform="translate(480.16,1640.28) scale(0.31854,0.32627)" font-family='"Liberation Sans", sans-serif' font-weight="normal" font-size="100" fill="#000">0.5</text>
<text transform="translate(623.66,1640.28) scale(0.31846,0.32627)" font-family='"Liberation Sans", sans-serif' font-weight="normal" font-size="100" fill="#000">0.75</text>
<text transform="translate(775.41,1640.08) scale(0.31344,0.32627)" font-family='"Liberation Sans", sans-serif' font-weight="normal" font-size="100" fill="#000">1.25</text>
<text transform="translate(308.53,1699.08) scale(0.40808,0.40552)" font-family='"Liberation Sans", sans-serif' font-weight="bold" font-size="100" fill="#000">Cycloheximide (μM)</text>
<text transform="translate(38.56,1613.39) rotate(-90) scale(0.31743,0.31828)" font-family='"Liberation Sans", sans-serif' font-weight="bold" font-size="100" fill="#000">normalised Fluc/Rluc ratio</text>
<path d="M316,1150.9 V1177.5 M302.8,1156.9 L329.2,1171.5 M302.8,1171.5 L329.2,1156.9" stroke="#e17f24" stroke-width="4.3" fill="none"/>
<path d="M316,1181.6 V1208.2 M302.8,1187.6 L329.2,1202.2 M302.8,1202.2 L329.2,1187.6" stroke="#4876b0" stroke-width="4.3" fill="none"/>
<path d="M354.7,1150.9 V1177.5 M341.5,1156.9 L367.9,1171.5 M341.5,1171.5 L367.9,1156.9" stroke="#e17f24" stroke-width="4.3" fill="none"/>
<path d="M354.7,1181.6 V1208.2 M341.5,1187.6 L367.9,1202.2 M341.5,1202.2 L367.9,1187.6" stroke="#4876b0" stroke-width="4.3" fill="none"/>
<path d="M393.2,1150.9 V1177.5 M380,1156.9 L406.4,1171.5 M380,1171.5 L406.4,1156.9" stroke="#e17f24" stroke-width="4.3" fill="none"/>
<path d="M393.2,1181.6 V1208.2 M380,1187.6 L406.4,1202.2 M380,1202.2 L406.4,1187.6" stroke="#4876b0" stroke-width="4.3" fill="none"/>
<path d="M465.5,1150.9 V1177.5 M452.3,1156.9 L478.7,1171.5 M452.3,1171.5 L478.7,1156.9" stroke="#e17f24" stroke-width="4.3" fill="none"/>
<path d="M465.5,1181.6 V1208.2 M452.3,1187.6 L478.7,1202.2 M452.3,1202.2 L478.7,1187.6" stroke="#4876b0" stroke-width="4.3" fill="none"/>
<path d="M503.8,1150.9 V1177.5 M490.6,1156.9 L517,1171.5 M490.6,1171.5 L517,1156.9" stroke="#e17f24" stroke-width="4.3" fill="none"/>
<path d="M503.8,1181.6 V1208.2 M490.6,1187.6 L517,1202.2 M490.6,1202.2 L517,1187.6" stroke="#4876b0" stroke-width="4.3" fill="none"/>
<path d="M542.4,1150.9 V1177.5 M529.2,1156.9 L555.6,1171.5 M529.2,1171.5 L555.6,1156.9" stroke="#e17f24" stroke-width="4.3" fill="none"/>
<path d="M542.4,1181.6 V1208.2 M529.2,1187.6 L555.6,1202.2 M529.2,1202.2 L555.6,1187.6" stroke="#4876b0" stroke-width="4.3" fill="none"/>
<path d="M619.1,1150.9 V1177.5 M605.9,1156.9 L632.3,1171.5 M605.9,1171.5 L632.3,1156.9" stroke="#e17f24" stroke-width="4.3" fill="none"/>
<path d="M619.1,1181.6 V1208.2 M605.9,1187.6 L632.3,1202.2 M605.9,1202.2 L632.3,1187.6" stroke="#4876b0" stroke-width="4.3" fill="none"/>
<path d="M657.4,1150.9 V1177.5 M644.2,1156.9 L670.6,1171.5 M644.2,1171.5 L670.6,1156.9" stroke="#e17f24" stroke-width="4.3" fill="none"/>
<path d="M657.4,1181.6 V1208.2 M644.2,1187.6 L670.6,1202.2 M644.2,1202.2 L670.6,1187.6" stroke="#4876b0" stroke-width="4.3" fill="none"/>
<path d="M696.1,1150.9 V1177.5 M682.9,1156.9 L709.3,1171.5 M682.9,1171.5 L709.3,1156.9" stroke="#e17f24" stroke-width="4.3" fill="none"/>
<path d="M696.1,1181.6 V1208.2 M682.9,1187.6 L709.3,1202.2 M682.9,1202.2 L709.3,1187.6" stroke="#4876b0" stroke-width="4.3" fill="none"/>
<path d="M770.5,1181.5 V1208.5 M757.3,1187.7 L783.7,1202.3 M757.3,1202.3 L783.7,1187.7" stroke="#4876b0" stroke-width="4.3" fill="none"/>
<path d="M809.3,1181.5 V1208.5 M796.1,1187.7 L822.5,1202.3 M796.1,1202.3 L822.5,1187.7" stroke="#4876b0" stroke-width="4.3" fill="none"/>
<path d="M847.8,1181.5 V1208.5 M834.6,1187.7 L861,1202.3 M834.6,1202.3 L861,1187.7" stroke="#4876b0" stroke-width="4.3" fill="none"/>
<text transform="translate(768.94,1172.18) scale(0.47925,0.43039)" font-family='"Liberation Sans", sans-serif' font-weight="bold" font-size="100" fill="#e17f24">n.s.</text>
<text transform="translate(920.18,1119.54) rotate(-90) scale(0.33380,0.32533)" font-family='"Liberation Sans", sans-serif' font-weight="normal" font-size="100" fill="#000">Luc</text>
<path d="M898.95,1059 H919.35 M898.95,1054.8 V1063.2 M919.35,1054.8 V1063.2" stroke="#000" stroke-width="2.3" fill="none"/>
<path d="M898.95,1045.4 H919.35 M898.95,1041.2 V1049.6 M919.35,1041.2 V1049.6" stroke="#000" stroke-width="2.3" fill="none"/>
<text transform="translate(920.18,1281.44) rotate(-90) scale(0.33380,0.32533)" font-family='"Liberation Sans", sans-serif' font-weight="normal" font-size="100" fill="#000">Luc</text>
<path d="M898.95,1220.9 H919.35 M898.95,1216.7 V1225.1 M919.35,1216.7 V1225.1" stroke="#000" stroke-width="2.3" fill="none"/>
<circle cx="909.8" cy="1142.1" r="9.8" fill="#e17f24"/>
<circle cx="910" cy="1303.9" r="10" fill="#4876b0"/>
</svg>
</body></html>
